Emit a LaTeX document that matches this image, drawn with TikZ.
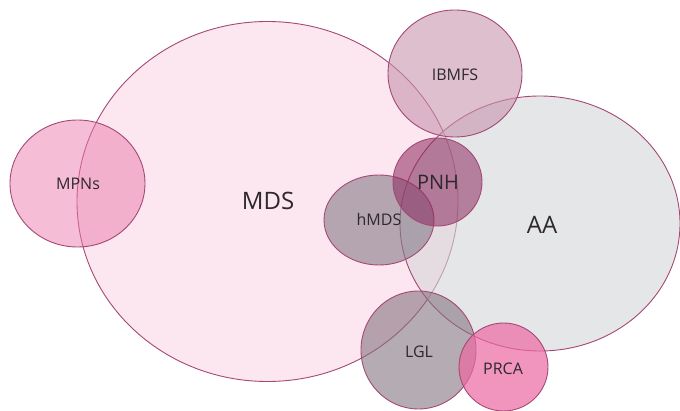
\documentclass[tikz,border=0pt]{standalone}
\usepackage{fontspec}
\setmainfont{Open Sans}
\usetikzlibrary{shapes.geometric}
\definecolor{edgec}{RGB}{165,72,118}
\definecolor{txtc}{RGB}{45,40,45}
\definecolor{mdsc}{RGB}{252,230,239}
\definecolor{mpnc}{RGB}{235,123,173}
\definecolor{aac}{RGB}{212,214,217}
\definecolor{ibmc}{RGB}{200,148,173}
\definecolor{pnhc}{RGB}{140,40,95}
\definecolor{hmdc}{RGB}{134,122,136}
\definecolor{lglc}{RGB}{132,115,127}
\definecolor{prcc}{RGB}{236,104,162}
\tikzset{
  blob/.style={ellipse, draw=edgec, line width=0.9pt, inner sep=0pt, text=txtc, font=\fontsize{16}{18}\selectfont},
}
\begin{document}
\begin{tikzpicture}[x=1pt,y=-1pt]
\useasboundingbox (0,0) rectangle (680,411);
\node[blob, fill=mdsc, minimum width=381pt, minimum height=360pt, font=\fontsize{24}{28}\selectfont] (mds) at (267.5,201.5) {};
\node[blob, fill=mpnc, fill opacity=0.5, minimum width=135pt, minimum height=127pt] (mpn) at (77.5,183.5) {};
\node[blob, fill=aac, fill opacity=0.6, minimum width=280pt, minimum height=255pt] (aa) at (540,223.5) {};
\node[blob, fill=ibmc, fill opacity=0.6, minimum width=134pt, minimum height=127pt] (ibm) at (455,73.5) {};
\node[blob, fill=hmdc, fill opacity=0.6, minimum width=110pt, minimum height=90pt] (hmd) at (379,220) {};
\node[blob, fill=pnhc, fill opacity=0.55, minimum width=89pt, minimum height=88pt] (pnh) at (437.5,182) {};
\node[blob, fill=lglc, fill opacity=0.6, minimum width=115pt, minimum height=118pt] (lgl) at (418.5,350) {};
\node[blob, fill=prcc, fill opacity=0.7, minimum width=89pt, minimum height=88pt] (prc) at (503.5,367) {};
% labels
\node[text=txtc, font=\fontsize{24}{28}\selectfont] (tmds) at (268,201) {MDS};
\node[text=txtc, font=\fontsize{16}{18}\selectfont] (tmpn) at (78,184) {MPNs};
\node[text=txtc, font=\fontsize{16}{18}\selectfont] (tibm) at (455,75) {IBMFS};
\node[text=txtc, font=\fontsize{20}{24}\selectfont] (tpnh) at (438,182) {PNH};
\node[text=txtc, font=\fontsize{16}{18}\selectfont] (thmd) at (379,220) {hMDS};
\node[text=txtc, font=\fontsize{24}{28}\selectfont] (taa) at (542,225) {AA};
\node[text=txtc, font=\fontsize{16}{18}\selectfont] (tlgl) at (419,352) {LGL};
\node[text=txtc, font=\fontsize{16}{18}\selectfont] (tprc) at (503,369) {PRCA};
\end{tikzpicture}
\end{document}
